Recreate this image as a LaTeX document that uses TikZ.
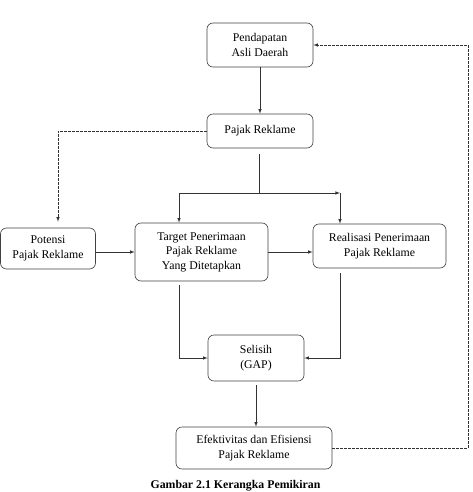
\documentclass[tikz,border=0pt]{standalone}
\usepackage{fontspec}
\setmainfont{Liberation Serif}
\usetikzlibrary{calc,arrows,positioning}

\begin{document}
\begin{tikzpicture}[x=1pt,y=-1pt,
    box/.style={draw=black!75,line width=0.6pt,rounded corners=6pt,align=center,
      inner sep=2pt,font=\fontsize{11.8}{14.5}\selectfont},
    line/.style={draw=black!80,line width=0.6pt},
    arr/.style={line,-latex},
    fb/.style={line,dashed,dash pattern=on 2.5pt off 1.5pt}]
              \useasboundingbox (0,0) rectangle (472,492);
              \node[box,minimum width=106pt,minimum height=44pt](pad)at(260,45){Pendapatan\\Asli Daerah};
              \node[box,minimum width=106pt,minimum height=34pt](pajak)at(260,131){Pajak Reklame};
              \node[box,minimum width=95pt,minimum height=41pt](potensi)at(48,248.5){Potensi\\Pajak Reklame};
              \node[box,minimum width=133pt,minimum height=58pt](target)at(201.5,252){Target Penerimaan\\Pajak Reklame\\Yang Ditetapkan};
              \node[box,minimum width=133pt,minimum height=44pt](realisasi)at(379.5,246){Realisasi Penerimaan\\Pajak Reklame};
              \node[box,minimum width=96pt,minimum height=46pt](selisih)at(256,358){Selisih\\(GAP)};
              \node[box,minimum width=156pt,minimum height=42pt](efektif)at(254,448){Efektivitas dan Efisiensi\\Pajak Reklame};
              \node[anchor=base,font=\fontsize{11.8}{14}\selectfont\bfseries](caption)at(235.5,488){Gambar 2.1 Kerangka Pemikiran};
              % junctions
              \coordinate (split) at (259,193);
              \coordinate (jl) at (179,193);
              \coordinate (jr) at (340,193);
              \coordinate (pot) at (58,131);
              \coordinate (fbr) at (468,0);
              \draw[arr] (pad) -- (pajak);
              \draw[line,shorten <=6pt] (pajak.south -| split) -- (split);
              \draw[arr] (jl) -- (jr);
              \draw[arr] (jl) -- (jl |- target.north);
              \draw[arr] (jr) -- (jr |- realisasi.north);
              \draw[fb,-latex,shorten >=6pt] (pajak.west) -- (pot) -- (pot |- potensi.north);
              \draw[arr] (potensi.east |- target.west) -- (target.west);
              \draw[arr] (target.east) -- (target.east -| realisasi.west);
              \draw[arr,shorten <=4pt] (jl |- target.south) |- (selisih.west);
              \draw[arr,shorten <=5pt] (jr |- realisasi.south) |- (selisih.east);
              \draw[arr,shorten <=4pt] (selisih.south) -- (selisih.south |- efektif.north);
              \draw[fb,-latex] (efektif.east) -- (fbr |- efektif.east) -- (fbr |- pad.east) -- (pad.east);
\end{tikzpicture}
\end{document}
